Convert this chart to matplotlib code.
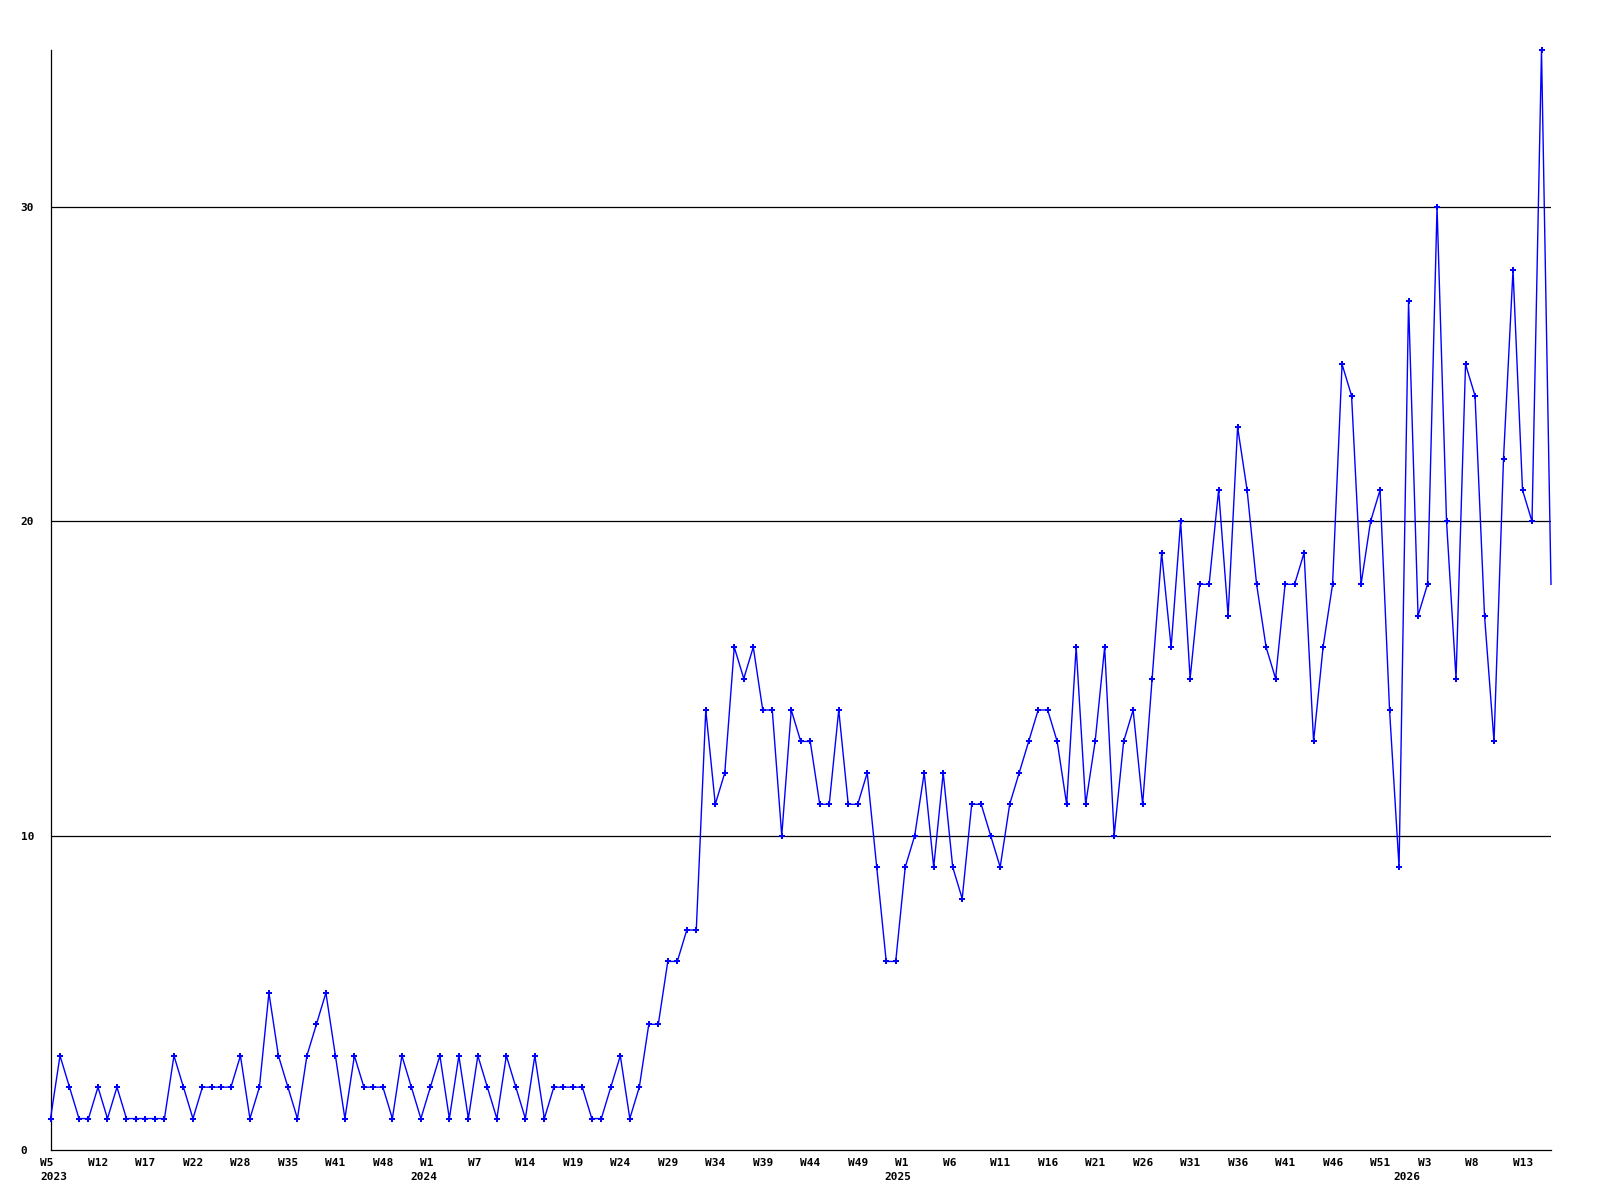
import matplotlib
matplotlib.use("Agg")
import matplotlib.pyplot as plt
from matplotlib.transforms import ScaledTranslation
import numpy as np

# ---- data ----
values = [
    1, 3, 2, 1, 1, 2, 1, 2, 1, 1, 1, 1, 1, 3, 2, 1, 2, 2, 2, 2,
    3, 1, 2, 5, 3, 2, 1, 3, 4, 5, 3, 1, 3, 2, 2, 2, 1, 3, 2, 1,
    2, 3, 1, 3, 1, 3, 2, 1, 3, 2, 1, 3, 1, 2, 2, 2, 2, 1, 1, 2,
    3, 1, 2, 4, 4, 6, 6, 7, 7,
    14, 11, 12, 16, 15, 16, 14, 14, 10, 14, 13, 13, 11, 11, 14, 11, 11, 12, 9, 6, 6,
    9, 10, 12, 9, 12, 9, 8, 11, 11, 10, 9, 11, 12, 13, 14, 14, 13, 11, 16, 11,
    13, 16, 10, 13, 14, 11, 15, 19, 16, 20, 15,
    18, 18, 21, 17, 23, 21, 18, 16, 15, 18, 18, 19, 13, 16, 18, 25, 24, 18, 20, 21,
    14, 9, 27, 17, 18, 30, 20, 15, 25, 24, 17, 13, 22, 28, 21, 20, 35, 18,
]
week_labels = ["W5", "W12", "W17", "W22", "W28", "W35", "W41", "W48",
               "W1", "W7", "W14", "W19", "W24", "W29", "W34", "W39", "W44", "W49",
               "W1", "W6", "W11", "W16", "W21", "W26", "W31", "W36", "W41", "W46", "W51",
               "W3", "W8", "W13"]
label_step = 5
year_labels = ["2023", "2024", "2025", "2026"]
year_label_idx = [-1.05, 37.92, 87.84, 141.35]
y_ticks = [0, 10, 20, 30]
grid_levels = [10, 20, 30]
y_max = 35

# ---- figure ----
fig = plt.figure(figsize=(16, 12), dpi=100)
ax = fig.add_axes([50.5 / 1600, 50 / 1200, (1551 - 50.5) / 1600, 1100 / 1200])

x = np.arange(len(values))
ax.set_xlim(0, len(values) - 1)
ax.set_ylim(0, y_max)

for g in grid_levels:
    ax.axhline(g, color="black", lw=0.9, zorder=1)

ax.plot(x, values, color="#0000ff", lw=1.0, marker="P", markersize=4.2,
        markeredgewidth=0, markevery=list(range(len(values) - 1)),
        clip_on=False, zorder=3)

for side in ["top", "right"]:
    ax.spines[side].set_visible(False)
for side in ["left", "bottom"]:
    ax.spines[side].set_color("black")
    ax.spines[side].set_linewidth(0.9)

font = dict(family="DejaVu Sans Mono", weight="bold", size=8)

# y tick labels (left-aligned at x=20 px)
ax.set_yticks(y_ticks)
ax.set_yticklabels([str(t) for t in y_ticks], **font)
ax.tick_params(axis="y", length=0, pad=30 * 0.72)
for lbl in ax.get_yticklabels():
    lbl.set_horizontalalignment("left")

# x tick labels drawn as text
ax.set_xticks([])
xtrans = ax.get_xaxis_transform()
off_w = ScaledTranslation(-10 / 100, -7.5 / 100, fig.dpi_scale_trans)
for i, lab in enumerate(week_labels):
    ax.text(i * label_step, 0, lab, transform=xtrans + off_w,
            ha="left", va="top", **font)
off_y = ScaledTranslation(0, -22.5 / 100, fig.dpi_scale_trans)
for xi, lab in zip(year_label_idx, year_labels):
    ax.text(xi, 0, lab, transform=xtrans + off_y, ha="left", va="top", **font)

fig.savefig("out.png", dpi=100, facecolor="white")
